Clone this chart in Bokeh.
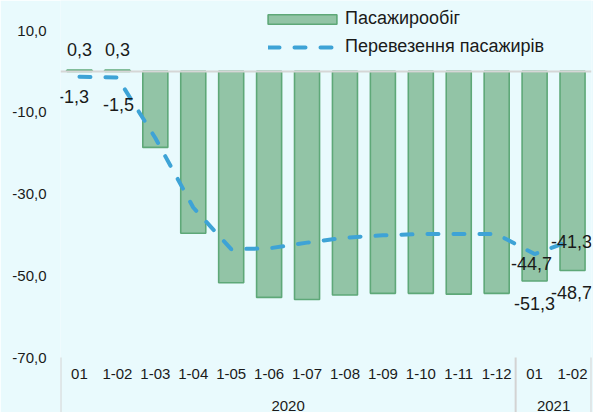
from bokeh.plotting import figure
from bokeh.models import FactorRange, Range1d, FixedTicker, Span, Legend, LegendItem, ColumnDataSource
from bokeh.core.properties import value
from bokeh.embed import file_html
from bokeh.resources import INLINE

# ---------------- data ----------------
years = ["2020", "2021"]
months_2020 = ["01", "1-02", "1-03", "1-04", "1-05", "1-06", "1-07", "1-08", "1-09", "1-10", "1-11", "1-12"]
months_2021 = ["01", "1-02"]
series_names = ["Пасажирообіг", "Перевезення пасажирів"]
pasazhyroobih = [0.3, 0.3, -18.6, -39.6, -51.7, -55.3, -55.8, -54.7, -54.3, -54.3, -54.5, -54.3, -51.3, -48.7]
perevezennia = [-1.3, -1.5, -16.3, -33.3, -43.5, -43.3, -41.9, -40.7, -40.1, -39.8, -39.8, -39.8, -44.7, -41.3]
y_ticks = [-70, -50, -30, -10, 10]
bar_label_idx = [0, 1, 12, 13]
line_label_idx = [0, 1, 12, 13]

# ---------------- style ----------------
BG = "#E9FAFD"
FONT = "Liberation Sans"
TXT = "#1A1A1A"
BAR_FILL = "#92C4A6"
BAR_LINE = "#5EA878"
LINE_COL = "#3EA3D6"

fmt = lambda v: f"{v:.1f}".replace(".", ",")

factors = [(years[0], m) for m in months_2020] + [(years[1], m) for m in months_2021]
months_all = months_2020 + months_2021

# pixel geometry of the frame (value 10 at 30px from top, -70 at 357px)
W, H = 593, 412
TOP_PX, BOT_PX = 30, 357
k = (BOT_PX - TOP_PX) / (y_ticks[-1] - y_ticks[0])
y_top = y_ticks[-1] + TOP_PX / k
y_bot = y_ticks[0] - (H - BOT_PX) / k

p = figure(width=W, height=H,
           x_range=FactorRange(*factors, factor_padding=0, group_padding=0, range_padding=0),
           y_range=Range1d(y_bot, y_top),
           output_backend="svg", toolbar_location=None, x_axis_location=None,
           min_border=0, min_border_left=60, min_border_right=2,
           background_fill_color=BG, border_fill_color=BG, outline_line_color=None)
p.grid.visible = False

src = ColumnDataSource(dict(x=factors, bar=pasazhyroobih, line=perevezennia))

bars = p.vbar(x="x", top="bar", bottom=0, width=0.66, source=src,
              fill_color=BAR_FILL, line_color=BAR_LINE, line_width=1.6)
ln = p.line(x="x", y="line", source=src, line_color=LINE_COL, line_width=4,
            line_dash="11 15", line_cap="round")

p.add_layout(Span(location=0, dimension="width", line_color="#D6D6D6", line_width=2))

# y axis
ax = p.yaxis[0]
ax.ticker = FixedTicker(ticks=y_ticks)
ax.major_label_overrides = {t: fmt(t) for t in y_ticks}
ax.axis_line_color = None
ax.major_tick_line_color = None
ax.minor_tick_line_color = None
ax.major_tick_out = 0
ax.major_tick_in = 0
ax.major_label_standoff = 14
ax.major_label_text_font = FONT
ax.major_label_text_font_size = "15px"
ax.major_label_text_color = TXT

# data labels
bar_off = [(0, -21), (0, -21), (0, 22), (-1, 22)]
line_off = [(-6, 20), (1, 27), (-3, 9), (-1, 1)]
lab = ColumnDataSource(dict(
    x=[factors[i] for i in bar_label_idx] + [factors[i] for i in line_label_idx],
    y=[pasazhyroobih[i] for i in bar_label_idx] + [perevezennia[i] for i in line_label_idx],
    t=[fmt(pasazhyroobih[i]) for i in bar_label_idx] + [fmt(perevezennia[i]) for i in line_label_idx],
    xo=[o[0] for o in bar_off] + [o[0] for o in line_off],
    yo=[o[1] for o in bar_off] + [o[1] for o in line_off],
))
p.text(x="x", y="y", text="t", x_offset="xo", y_offset="yo", source=lab,
       text_align="center", text_baseline="middle", text_font=value(FONT),
       text_font_size="18px", text_color=TXT)

# category axis drawn by hand
p.text(x=factors, y=[y_ticks[0]] * len(factors), text=months_all, y_offset=16,
       text_align="center", text_baseline="middle", text_font=value(FONT),
       text_font_size="15px", text_color=TXT)
p.text(x=years, y=[y_ticks[0]] * len(years), text=years, y_offset=48,
       text_align="center", text_baseline="middle", text_font=value(FONT),
       text_font_size="15px", text_color=TXT)
n20 = len(months_2020)
sep_x = [0, n20, n20 + len(months_2021)]
p.segment(x0=sep_x, x1=sep_x, y0=[y_ticks[0]] * 3, y1=[y_bot] * 3,
          line_color="#D3D3D3", line_width=2)

# legends
leg1 = Legend(items=[LegendItem(label=series_names[0], renderers=[bars])],
              location=(199, 383), glyph_width=86, glyph_height=12, label_standoff=0,
              padding=0, margin=0, spacing=0, label_height=20,
              border_line_color=None, background_fill_alpha=0,
              label_text_font=FONT, label_text_font_size="18px", label_text_color=TXT)
leg2 = Legend(items=[LegendItem(label=series_names[1], renderers=[ln])],
              location=(208, 355), glyph_width=69, glyph_height=12, label_standoff=8,
              padding=0, margin=0, spacing=0, label_height=20,
              border_line_color=None, background_fill_alpha=0,
              label_text_font=FONT, label_text_font_size="18px", label_text_color=TXT)
p.add_layout(leg1)
p.add_layout(leg2)

open("out.html", "w").write(file_html(p, INLINE))
